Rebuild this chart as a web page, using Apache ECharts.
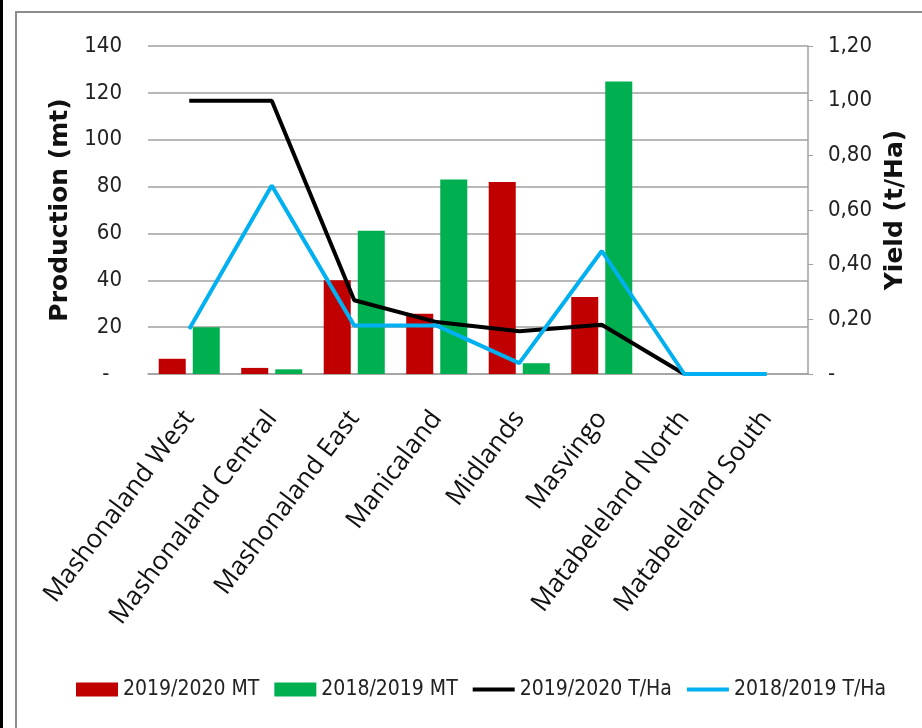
<!DOCTYPE html>
<html>
<head>
<meta charset="utf-8">
<script src="https://cdn.jsdelivr.net/npm/echarts@6/dist/echarts.min.js"></script>
<style>
  html, body { margin: 0; padding: 0; background: #fff; }
  #chart { width: 922px; height: 728px; }
</style>
</head>
<body>
<div id="chart"></div>
<script>
// provinces
var provinces = ['Mashonaland West', 'Mashonaland Central', 'Mashonaland East', 'Manicaland',
                 'Midlands', 'Masvingo', 'Matabeleland North', 'Matabeleland South'];
// production (mt)
var prod2020 = [6.5, 2.6, 40, 25.7, 81.9, 32.9, 0, 0];
var prod2019 = [20, 2, 61.1, 83, 4.6, 124.9, 0, 0];
// yield (t/Ha)
var yield2020 = [1.00, 1.00, 0.27, 0.19, 0.156, 0.18, 0, null];
var yield2019 = [0.165, 0.69, 0.177, 0.177, 0.04, 0.45, 0, 0];
// tick settings
var prodMax = 140, prodStep = 20;
var yieldMax = 1.2, yieldStep = 0.2;

var narrow = '"DejaVu Sans Condensed", "Liberation Sans", sans-serif';
var lineIcon = 'path://M0,0 L40,0 L40,4 L0,4 Z';

var myChart = echarts.init(document.getElementById('chart'));
var option = {
    backgroundColor: '#fff',
    animation: false,
    graphic: [
        {type: 'rect', shape: {x: 0, y: 0, width: 3, height: 728}, style: {fill: '#000'}},
        {type: 'rect', shape: {x: 16, y: 12, width: 920, height: 730},
         style: {fill: 'none', stroke: '#8c8c8c', lineWidth: 2}}
    ],
    grid: {left: 148, right: 114, top: 46, bottom: 354},
    legend: {
        left: 71, top: 674,
        itemWidth: 42, itemHeight: 14, itemGap: 15,
        textStyle: {fontFamily: narrow, fontSize: 21, color: '#222'},
        data: [
            {name: '2019/2020 MT', icon: 'rect'},
            {name: '2018/2019 MT', icon: 'rect'},
            {name: '2019/2020 T/Ha', icon: lineIcon},
            {name: '2018/2019 T/Ha', icon: lineIcon}
        ]
    },
    xAxis: {
        type: 'category',
        data: provinces,
        axisLine: {show: true, lineStyle: {color: '#a0a0a0', width: 1.5}},
        axisTick: {show: false},
        axisLabel: {
            rotate: 53, interval: 0, margin: 40,
            fontFamily: '"Open Sans", sans-serif', fontSize: 26, color: '#111'
        }
    },
    yAxis: [
        {
            type: 'value', min: 0, max: prodMax, interval: prodStep,
            name: 'Production (mt)', nameLocation: 'middle', nameRotate: 90, nameGap: 72,
            nameTextStyle: {fontFamily: '"DejaVu Sans", sans-serif', fontWeight: 'bold', fontSize: 25, color: '#111'},
            axisLine: {show: false},
            axisTick: {show: false},
            axisLabel: {
                margin: 26, fontFamily: narrow, fontSize: 22, color: '#222',
                formatter: function (v) { return v === 0 ? '-  ' : String(v); }
            },
            splitLine: {lineStyle: {color: '#a0a0a0', width: 1.5}}
        },
        {
            type: 'value', min: 0, max: yieldMax, interval: yieldStep,
            name: 'Yield (t/Ha)', nameLocation: 'middle', nameRotate: 90, nameGap: 72,
            nameTextStyle: {fontFamily: '"DejaVu Sans", sans-serif', fontWeight: 'bold', fontSize: 25, color: '#111'},
            axisLine: {show: true, lineStyle: {color: '#a0a0a0', width: 1.5}},
            axisTick: {show: true, length: 5, lineStyle: {color: '#a0a0a0'}},
            axisLabel: {
                margin: 20, fontFamily: narrow, fontSize: 22, color: '#222',
                formatter: function (v) { return v === 0 ? '-' : v.toFixed(2).replace('.', ','); }
            },
            splitLine: {show: false}
        }
    ],
    series: [
        {name: '2019/2020 MT', type: 'bar', data: prod2020, barGap: '26%', barCategoryGap: '26%',
         itemStyle: {color: '#c00000'}},
        {name: '2018/2019 MT', type: 'bar', data: prod2019,
         itemStyle: {color: '#00b050'}},
        {name: '2019/2020 T/Ha', type: 'line', yAxisIndex: 1, data: yield2020, symbol: 'none',
         lineStyle: {color: '#000', width: 4}, itemStyle: {color: '#000'}},
        {name: '2018/2019 T/Ha', type: 'line', yAxisIndex: 1, data: yield2019, symbol: 'none',
         lineStyle: {color: '#00b0f0', width: 4}, itemStyle: {color: '#00b0f0'}}
    ]
};
myChart.setOption(option);
</script>
</body>
</html>
